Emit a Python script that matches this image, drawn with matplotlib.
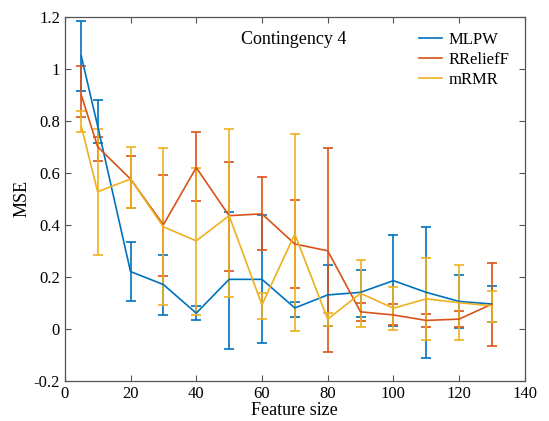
import matplotlib
matplotlib.use('Agg')
import matplotlib.pyplot as plt
import numpy as np

plt.rcParams['font.family'] = ['Liberation Serif', 'DejaVu Serif']

# feature sizes (x)
feature_size = [5, 10, 20, 30, 40, 50, 60, 70, 80, 90, 100, 110, 120, 130]

# MLPW: mean, upper and lower ends of error bar
mlpw_mean = [1.05, 0.78, 0.22, 0.17, 0.06, 0.19, 0.19, 0.08, 0.13, 0.14, 0.185, 0.14, 0.105, 0.095]
mlpw_hi = [1.185, 0.88, 0.335, 0.282, 0.088, 0.451, 0.437, 0.104, 0.246, 0.227, 0.36, 0.39, 0.208, 0.163]
mlpw_lo = [0.914, 0.715, 0.105, 0.054, 0.033, -0.077, -0.056, 0.046, 0.012, 0.046, 0.009, -0.113, 0.004, 0.027]

# RReliefF
rrel_mean = [0.90, 0.70, 0.576, 0.40, 0.62, 0.435, 0.442, 0.326, 0.30, 0.065, 0.053, 0.032, 0.037, 0.095]
rrel_hi = [1.01, 0.738, 0.663, 0.592, 0.755, 0.64, 0.582, 0.494, 0.694, 0.099, 0.094, 0.056, 0.067, 0.253]
rrel_lo = [0.813, 0.646, 0.463, 0.204, 0.49, 0.223, 0.304, 0.157, -0.09, 0.028, 0.015, 0.006, 0.005, -0.067]

# mRMR
mrmr_mean = [0.78, 0.527, 0.576, 0.392, 0.338, 0.435, 0.092, 0.364, 0.037, 0.136, 0.079, 0.115, 0.10, 0.088]
mrmr_hi = [0.837, 0.768, 0.70, 0.694, 0.62, 0.768, 0.136, 0.75, 0.06, 0.264, 0.16, 0.274, 0.246, 0.145]
mrmr_lo = [0.755, 0.285, 0.463, 0.09, 0.054, 0.123, 0.037, -0.01, 0.009, 0.005, -0.005, -0.042, -0.045, 0.027]

series = [
    ('MLPW', mlpw_mean, mlpw_hi, mlpw_lo, '#0072BD'),
    ('RReliefF', rrel_mean, rrel_hi, rrel_lo, '#D95319'),
    ('mRMR', mrmr_mean, mrmr_hi, mrmr_lo, '#EDB120'),
]

fig = plt.figure(figsize=(5.49, 4.21), dpi=100)
ax = fig.add_axes([0.118, 0.0957, 0.838, 0.8643])

for name, mean, hi, lo, color in series:
    mean = np.array(mean)
    yerr = [mean - np.array(lo), np.array(hi) - mean]
    ax.errorbar(feature_size, mean, yerr=yerr, color=color, linewidth=1.2,
                elinewidth=1.2, capsize=3.5, capthick=1.2, label=name)

ax.set_xlim(0, 140)
ax.set_ylim(-0.2, 1.2)
ax.set_xticks(np.arange(0, 141, 20))
ax.set_yticks([-0.2, 0, 0.2, 0.4, 0.6, 0.8, 1.0, 1.2])
ax.set_yticklabels(['-0.2', '0', '0.2', '0.4', '0.6', '0.8', '1', '1.2'])
ax.tick_params(direction='in', top=True, right=True, labelsize=12, length=4, color='#555555')
for sp in ax.spines.values():
    sp.set_color('#555555')
    sp.set_linewidth(0.9)

ax.set_xlabel('Feature size', fontsize=13, labelpad=0)
ax.set_ylabel('MSE', fontsize=13, labelpad=2)
ax.text(0.382, 0.926, 'Contingency 4', transform=ax.transAxes, fontsize=13)

handles, labels = ax.get_legend_handles_labels()
handles = [h[0] for h in handles]
ax.legend(handles, labels, loc='upper right', frameon=False, fontsize=12,
          handlelength=1.4, labelspacing=0.25, handletextpad=0.4,
          bbox_to_anchor=(1.0, 1.0))

fig.savefig('out.png', dpi=100)
